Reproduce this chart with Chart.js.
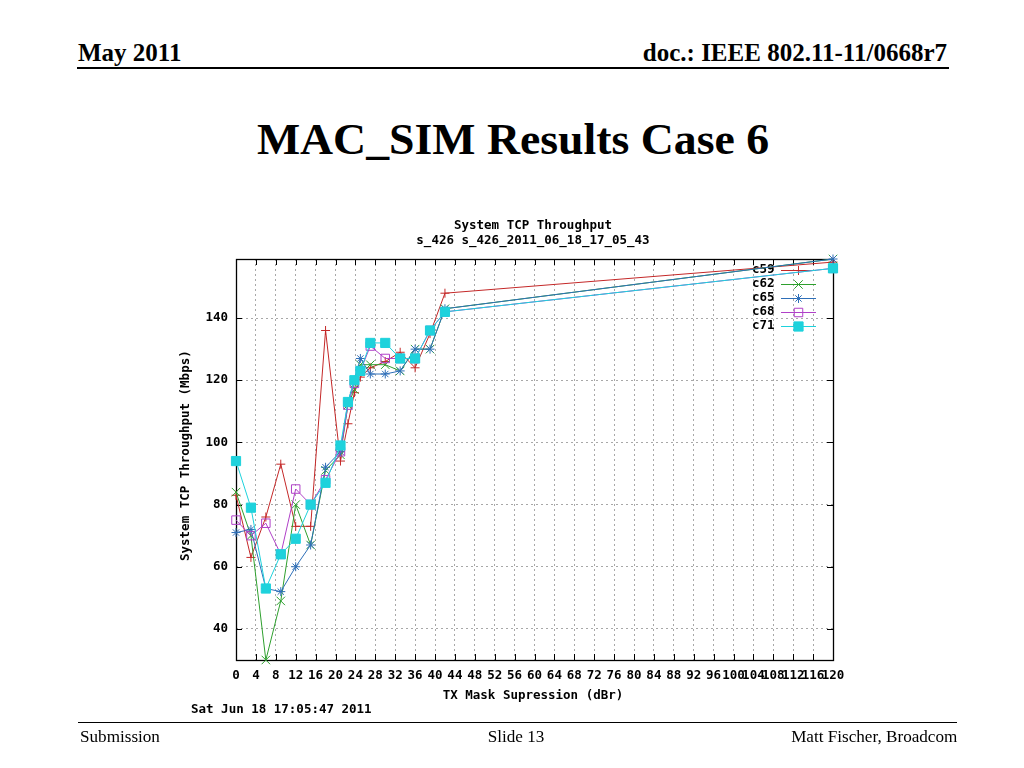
<!DOCTYPE html>
<html>
<head>
<meta charset="utf-8">
<script src="https://cdn.jsdelivr.net/npm/chart.js@4.4.0/dist/chart.umd.min.js"></script>
<style>
  html, body { margin:0; padding:0; background:#fff; }
  body { width:1024px; height:768px; position:relative; overflow:hidden; }
  #c { position:absolute; left:0; top:0; }
  .t { position:absolute; white-space:nowrap; color:#000; }
  .serif { font-family:"Liberation Serif","Times New Roman",serif; }
  .mono { font-family:"DejaVu Sans Mono",monospace; font-weight:bold; font-size:12.5px; }
  .hr { position:absolute; height:0; border-top:2px solid #000; }
</style>
</head>
<body>
<div class="t serif" style="left:78px; top:38px; font-size:25px; font-weight:bold; line-height:30px;">May 2011</div>
<div class="t serif" style="right:77px; top:38px; font-size:25px; font-weight:bold; line-height:30px;">doc.: IEEE 802.11-11/0668r7</div>
<div class="hr" style="left:77px; width:872px; top:67px;"></div>
<div class="t serif" style="left:0; width:1026px; text-align:center; top:113px; font-size:44px; font-weight:bold; line-height:54px; transform:scaleX(1.04);">MAC_SIM Results Case 6</div>

<canvas id="c" width="1024" height="768"></canvas>

<div class="t mono" style="left:0; width:1066px; text-align:center; top:217px; line-height:16px;">System TCP Throughput</div>
<div class="t mono" style="left:0; width:1066px; text-align:center; top:232px; line-height:16px;">s_426 s_426_2011_06_18_17_05_43</div>
<div class="t mono" style="left:85px; width:200px; text-align:center; top:453px; line-height:16px; transform:rotate(-90deg);">System TCP Throughput (Mbps)</div>
<div class="t mono" style="left:0; width:1066px; text-align:center; top:687px; line-height:16px;">TX Mask Supression (dBr)</div>
<div class="t mono" style="left:191px; top:701px; line-height:16px;">Sat Jun 18 17:05:47 2011</div>

<div class="hr" style="left:78px; width:879px; top:722px; border-top-width:1px;"></div>
<div class="t serif" style="left:80px; top:727px; font-size:16px; line-height:20px; transform:scaleX(1.07); transform-origin:left center;">Submission</div>
<div class="t serif" style="left:0; width:1032px; text-align:center; top:727px; font-size:16px; line-height:20px; transform:scaleX(1.07);">Slide 13</div>
<div class="t serif" style="right:67px; top:727px; font-size:16px; line-height:20px; transform:scaleX(1.07); transform-origin:right center;">Matt Fischer, Broadcom</div>

<script>
// ---- data ----
const suppressionDbr = [0, 3, 6, 9, 12, 15, 18, 21, 22.5, 23.8, 25, 27, 30, 33, 36, 39, 42, 120];
const seriesNames = ["c59", "c62", "c65", "c68", "c71"];
const c59 = [83, 63, 76, 93, 73, 73, 136, 94, 106, 116, 121, 124, 126, 129, 124, 135, 148, 158];
const c62 = [84, 70, 30, 49, 80, 67, 91, 96, 112, 117, 125, 125, 125, 123, 130, 130, 143, 159];
const c65 = [71, 72, 53, 52, 60, 67, 92, 97, 113, 120, 127, 122, 122, 123, 130, 130, 143, 159];
const c68 = [75, 70, 74, 64, 85, 80, 88, 97, 112, 119, 123, 131, 127, 127, 127, 136, 142, 156];
const c71 = [94, 79, 53, 64, 69, 80, 87, 99, 113, 120, 123, 132, 132, 127, 127, 136, 142, 156];
const yTickValues = [40, 60, 80, 100, 120, 140];
const xTickStep = 4;

const seriesValues = [c59, c62, c65, c68, c71];
const styles = [
  { color: "#c42828", point: "cross",    radius: 4.5, fill: "#c42828" },
  { color: "#2ea02e", point: "crossRot", radius: 6,   fill: "#2ea02e" },
  { color: "#2e6fb8", point: "star",     radius: 4.5, fill: "#2e6fb8" },
  { color: "#b040c8", point: "rect",     radius: 6,   fill: "rgba(0,0,0,0)" },
  { color: "#1ed2dc", point: "rect",     radius: 6.5, fill: "#1ed2dc" }
];

const datasets = seriesNames.map((name, i) => ({
  label: name,
  data: suppressionDbr.map((x, j) => ({ x: x, y: seriesValues[i][j] })),
  borderColor: styles[i].color,
  borderWidth: 1,
  pointStyle: styles[i].point,
  pointRadius: styles[i].radius,
  pointBorderColor: styles[i].color,
  pointBackgroundColor: styles[i].fill,
  pointBorderWidth: 1,
  fill: false,
  tension: 0,
  clip: false,
  order: seriesNames.length - i
}));

const monoFont = { family: "DejaVu Sans Mono", weight: "bold", size: 12.5 };

function drawMarker(ctx, style, x, y) {
  const r = style.radius;
  ctx.save();
  ctx.strokeStyle = style.color;
  ctx.fillStyle = style.fill;
  ctx.lineWidth = 1;
  ctx.beginPath();
  if (style.point === "cross") {
    ctx.moveTo(x - r, y); ctx.lineTo(x + r, y);
    ctx.moveTo(x, y - r); ctx.lineTo(x, y + r);
    ctx.stroke();
  } else if (style.point === "crossRot") {
    const d = r * Math.SQRT1_2;
    ctx.moveTo(x - d, y - d); ctx.lineTo(x + d, y + d);
    ctx.moveTo(x - d, y + d); ctx.lineTo(x + d, y - d);
    ctx.stroke();
  } else if (style.point === "star") {
    const d = r * Math.SQRT1_2;
    ctx.moveTo(x - r, y); ctx.lineTo(x + r, y);
    ctx.moveTo(x, y - r); ctx.lineTo(x, y + r);
    ctx.moveTo(x - d, y - d); ctx.lineTo(x + d, y + d);
    ctx.moveTo(x - d, y + d); ctx.lineTo(x + d, y - d);
    ctx.stroke();
  } else {
    const s = r * Math.SQRT1_2;
    ctx.rect(x - s, y - s, 2 * s, 2 * s);
    ctx.fill();
    ctx.stroke();
  }
  ctx.restore();
}

const legendPlugin = {
  id: "gnuLegend",
  beforeDatasetsDraw(chart) {
    const ctx = chart.ctx;
    const area = chart.chartArea;
    const textX = area.right - 81;
    const lineX1 = area.right - 52, lineX2 = area.right - 17;
    const top = area.top + 11;
    ctx.save();
    ctx.font = "bold 12.5px 'DejaVu Sans Mono'";
    ctx.textBaseline = "middle";
    ctx.textAlign = "left";
    seriesNames.forEach((name, i) => {
      const y = top + i * 14;
      ctx.fillStyle = "#000";
      ctx.fillText(name, textX, y);
      ctx.strokeStyle = styles[i].color;
      ctx.lineWidth = 1;
      ctx.beginPath();
      ctx.moveTo(lineX1, y + 0.5);
      ctx.lineTo(lineX2, y + 0.5);
      ctx.stroke();
      drawMarker(ctx, styles[i], (lineX1 + lineX2) / 2, y + 0.5);
    });
    ctx.restore();
  }
};

const framePlugin = {
  id: "gnuFrame",
  beforeDatasetsDraw(chart) {
    const ctx = chart.ctx;
    const { left, top, right, bottom } = chart.chartArea;
    const xs = chart.scales.x, ys = chart.scales.y;
    const tl = 6;
    ctx.save();
    ctx.strokeStyle = "#000";
    ctx.lineWidth = 1;
    ctx.beginPath();
    xs.ticks.forEach(t => {
      const px = Math.round(xs.getPixelForValue(t.value)) + 0.5;
      ctx.moveTo(px, bottom); ctx.lineTo(px, bottom - tl);
      ctx.moveTo(px, top); ctx.lineTo(px, top + tl);
    });
    ys.ticks.forEach(t => {
      const py = Math.round(ys.getPixelForValue(t.value)) + 0.5;
      ctx.moveTo(left, py); ctx.lineTo(left + tl, py);
      ctx.moveTo(right, py); ctx.lineTo(right - tl, py);
    });
    ctx.stroke();
    ctx.lineWidth = 1.3;
    ctx.strokeRect(Math.round(left) + 0.5, Math.round(top) + 0.5, Math.round(right - left), Math.round(bottom - top));
    ctx.restore();
  }
};

new Chart(document.getElementById("c"), {
  type: "line",
  data: { datasets: datasets },
  options: {
    responsive: false,
    animation: false,
    devicePixelRatio: 1,
    layout: { padding: { left: 176, top: 259, right: 191, bottom: 68 } },
    plugins: { legend: { display: false }, title: { display: false }, tooltip: { enabled: false } },
    scales: {
      x: {
        type: "linear",
        min: 0, max: 120,
        afterFit(scale) { scale.height = 40; },
        ticks: { stepSize: xTickStep, autoSkip: false, maxRotation: 0, minRotation: 0, includeBounds: false,
                 color: "#000", font: monoFont, padding: 8 },
        grid: { color: "#a8a8a8", lineWidth: 1, drawTicks: false },
        border: { display: false, dash: [2, 3] }
      },
      y: {
        type: "linear",
        min: 30, max: 159,
        afterFit(scale) { scale.width = 60; },
        afterBuildTicks(scale) { scale.ticks = yTickValues.map(v => ({ value: v })); },
        ticks: { color: "#000", font: monoFont, padding: 8 },
        grid: { color: "#a8a8a8", lineWidth: 1, drawTicks: false },
        border: { display: false, dash: [2, 3] }
      }
    }
  },
  plugins: [legendPlugin, framePlugin]
});
</script>
</body>
</html>
